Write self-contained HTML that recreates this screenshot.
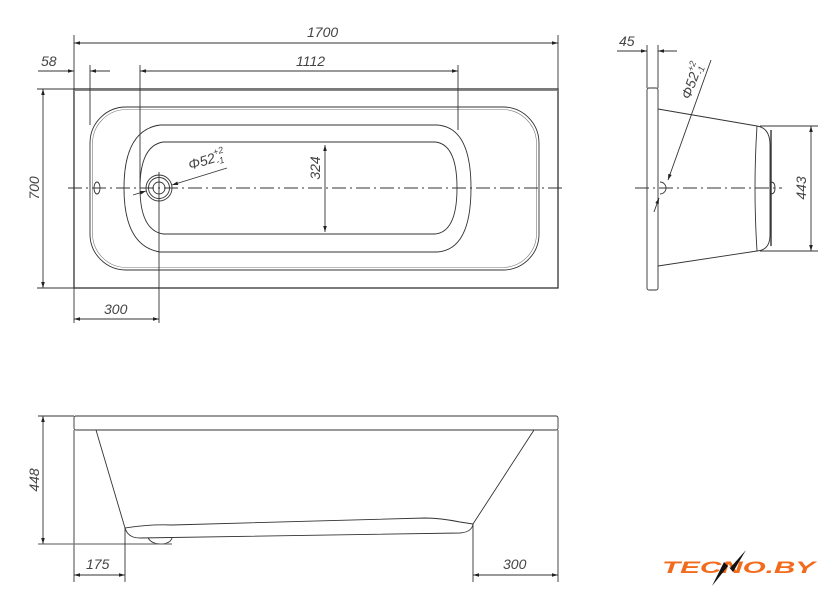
<!DOCTYPE html>
<html><head><meta charset="utf-8"><style>
html,body{margin:0;padding:0;background:#fff;width:840px;height:604px;overflow:hidden}
svg{display:block}
text{font-family:"Liberation Sans",sans-serif;font-style:italic;fill:#444;font-size:14px}
</style></head><body>
<svg width="840" height="604" viewBox="0 0 840 604" xmlns="http://www.w3.org/2000/svg">
<defs>
<marker id="a" viewBox="0 0 10 6" refX="10" refY="3" markerWidth="8" markerHeight="4" orient="auto-start-reverse"><path d="M0,0 L10,3 L0,6z" fill="#222"/></marker>
</defs>
<g fill="none" stroke="#333" stroke-width="0.9">
<rect x="74" y="89" width="484" height="199" stroke-width="1.3"/>
<line x1="74" y1="90.5" x2="558" y2="90.5" stroke="#888"/>
<rect x="90" y="107" width="449" height="163" rx="36"/>
<rect x="92.5" y="109.5" width="444" height="158" rx="34" stroke="#777" stroke-width="0.6"/>
<path d="M160,125 L437,125 Q471,127 471,188 Q471,250 437,252 L160,252 Q124,246 124,188 Q124,130 160,125z"/>
<path d="M163,142 L435,142 Q457,144 457,188 Q457,232 435,234 L163,234 Q140,230 140,188 Q140,146 163,142z"/>
<ellipse cx="97" cy="188" rx="3" ry="6"/>
<circle cx="159" cy="188" r="13"/><circle cx="159" cy="188" r="10.5"/><circle cx="159" cy="188" r="6"/>
<line x1="68" y1="188" x2="565" y2="188" stroke-dasharray="14,4,2,4"/>
<line x1="74" y1="35" x2="74" y2="89"/><line x1="558" y1="35" x2="558" y2="89"/>
<line x1="74" y1="43" x2="558" y2="43" marker-start="url(#a)" marker-end="url(#a)"/>
<line x1="90" y1="65" x2="90" y2="125"/>
<line x1="38" y1="71" x2="74" y2="71" marker-end="url(#a)"/>
<line x1="90" y1="71" x2="110" y2="71" marker-start="url(#a)"/>
<line x1="140" y1="65" x2="140" y2="188"/><line x1="458" y1="65" x2="458" y2="130"/>
<line x1="140" y1="71" x2="458" y2="71" marker-start="url(#a)" marker-end="url(#a)"/>
<line x1="37" y1="89" x2="74" y2="89"/><line x1="37" y1="288" x2="74" y2="288"/>
<line x1="43" y1="89" x2="43" y2="288" marker-start="url(#a)" marker-end="url(#a)"/>
<line x1="325" y1="145" x2="325" y2="232" marker-start="url(#a)" marker-end="url(#a)"/>
<line x1="159" y1="172" x2="159" y2="323"/>
<line x1="74" y1="288" x2="74" y2="323"/>
<line x1="74" y1="319" x2="159" y2="319" marker-start="url(#a)" marker-end="url(#a)"/>
<line x1="133" y1="195" x2="146" y2="191" marker-end="url(#a)"/>
<line x1="172" y1="185" x2="227" y2="168" marker-start="url(#a)"/>
<rect x="647" y="88" width="11" height="202" rx="2"/>
<path d="M658,109 L757,126 M658,266 L757,251"/>
<path d="M757,126 Q753,188 757,251"/>
<path d="M757,126 Q770,128 770,145 L770,235 Q770,250 757,251"/>
<path d="M771,130 L771,246" stroke-width="1.4"/>
<path d="M771,182 q4,0 4,6 q0,6 -4,6"/>
<path d="M660,182 a6,6 0 0 1 0,12"/>
<line x1="635" y1="188" x2="782" y2="188" stroke-dasharray="14,4,2,4"/>
<line x1="760" y1="126" x2="818" y2="126"/><line x1="760" y1="251" x2="818" y2="251"/>
<line x1="811" y1="126" x2="811" y2="251" marker-start="url(#a)" marker-end="url(#a)"/>
<line x1="647" y1="45" x2="647" y2="88"/><line x1="658" y1="45" x2="658" y2="88"/>
<line x1="617" y1="51" x2="647" y2="51" marker-end="url(#a)"/>
<line x1="658" y1="51" x2="677" y2="51" marker-start="url(#a)"/>
<line x1="654" y1="212" x2="659" y2="198" marker-end="url(#a)"/>
<line x1="668" y1="180" x2="711" y2="60" marker-start="url(#a)"/>
<rect x="74" y="416" width="484" height="14" rx="2"/>
<line x1="74" y1="430" x2="74" y2="582"/>
<line x1="558" y1="430" x2="558" y2="582"/>
<path d="M96,430 L125,528 M534,430 L473,524"/>
<path d="M125,528 Q150,524 172,525 L425,518 Q440,518 460,522 L473,524"/>
<path d="M125,528 Q128,538 140,538 L460,533 Q472,532 473,524"/>
<path d="M148,538 q4,6 12,6 q10,0 12,-6"/>
<line x1="38" y1="544" x2="172" y2="544" stroke="#777" stroke-width="1.3"/>
<line x1="38" y1="416" x2="74" y2="416"/>
<line x1="43" y1="416" x2="43" y2="544" marker-start="url(#a)" marker-end="url(#a)"/>
<line x1="125" y1="528" x2="125" y2="582"/>
<line x1="473" y1="524" x2="473" y2="582"/>
<line x1="74" y1="575" x2="125" y2="575" marker-start="url(#a)" marker-end="url(#a)"/>
<line x1="473" y1="575" x2="558" y2="575" marker-start="url(#a)" marker-end="url(#a)"/>
</g>
<text x="307" y="37">1700</text>
<text x="41" y="66">58</text>
<text x="296" y="66">1112</text>
<text transform="translate(39,188) rotate(-90)" text-anchor="middle">700</text>
<text transform="translate(320,168) rotate(-90)" text-anchor="middle">324</text>
<text x="104" y="314">300</text>
<text transform="translate(190,170) rotate(-17)">Φ52<tspan font-size="9" dy="-7">+2</tspan><tspan font-size="9" dx="-10" dy="10">-1</tspan></text>
<text x="619" y="46">45</text>
<text transform="translate(806,188) rotate(-90)" text-anchor="middle">443</text>
<text transform="translate(690,100) rotate(-70)">Φ52<tspan font-size="9" dy="-7">+2</tspan><tspan font-size="9" dx="-10" dy="10">-1</tspan></text>
<text transform="translate(39,480) rotate(-90)" text-anchor="middle">448</text>
<text x="86" y="569">175</text>
<text x="503" y="569">300</text>
<text x="662" y="573" textLength="153" lengthAdjust="spacingAndGlyphs" style="fill:#f26b1d;font-weight:bold;font-size:17px;font-style:italic">TECNO.BY</text>
<path d="M746,550 L733,572 L728,566 L712,586 L724,562 L730,568z" fill="#111"/>
</svg>
</body></html>
